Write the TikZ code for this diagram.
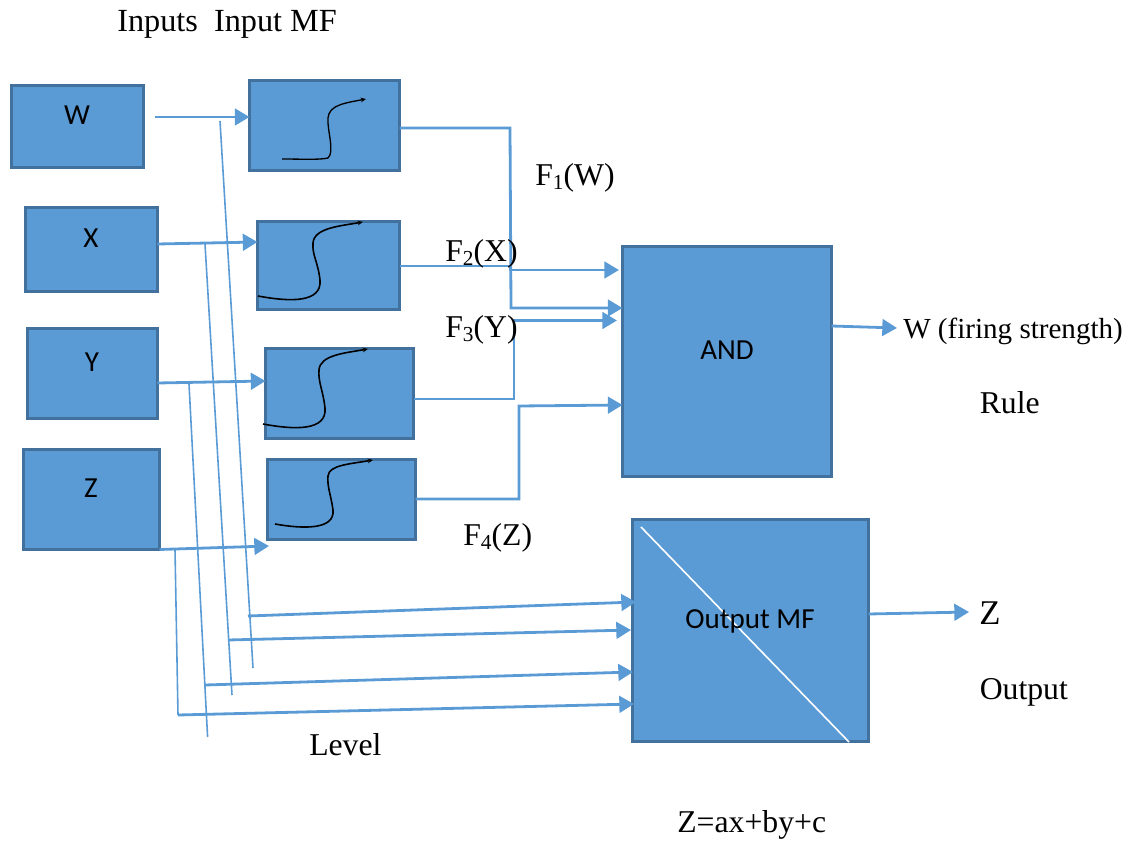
\documentclass[tikz,border=0pt]{standalone}
\usepackage{fontspec}
\setmainfont{Liberation Serif}
\newfontfamily\boxfont{Carlito}
\usetikzlibrary{arrows.meta,calc}
\definecolor{boxfill}{HTML}{5B9BD5}
\definecolor{boxedge}{HTML}{41719C}
\newcommand{\subn}[1]{\raisebox{-2.4pt}{\fontsize{16}{16}\selectfont #1}}
\tikzset{
  fbox/.style={draw=boxedge,fill=boxfill,line width=2.2pt,inner sep=0pt,outer sep=0pt,anchor=north west},
  conn/.style={draw=boxfill,line width=2.1pt,-{Triangle[length=11pt,width=12.5pt]}},
  thin wire/.style={draw=boxfill,line width=1.2pt},
  lab/.style={font=\fontsize{23.8}{24}\selectfont,anchor=base west,inner sep=0pt,text=black},
  boxlab/.style={font=\boxfont\fontsize{21.8}{22}\selectfont,inner sep=0pt,text=black},
  sig/.style={draw=black,line width=1.2pt,-{Stealth[length=4pt,width=3.5pt]}}
}
\begin{document}
\begin{tikzpicture}[x=0.75pt,y=-0.75pt]
\useasboundingbox (0,0) rectangle (1132,841);
% boxes
\node[fbox,minimum width=99pt,minimum height=61.5pt] (w) at (11.5,85.5) {};
\node[fbox,minimum width=99pt,minimum height=63pt] (x) at (25.5,207.5) {};
\node[fbox,minimum width=97.5pt,minimum height=67.5pt] (y) at (27.5,328.5) {};
\node[fbox,minimum width=102pt,minimum height=75pt] (z) at (23.5,449.5) {};
\node[fbox,minimum width=112.5pt,minimum height=67.5pt] (m1) at (249.5,80.5) {};
\node[fbox,minimum width=106.5pt,minimum height=66pt] (m2) at (257.5,221.5) {};
\node[fbox,minimum width=111pt,minimum height=67.5pt] (m3) at (265.5,348.5) {};
\node[fbox,minimum width=111pt,minimum height=60pt] (m4) at (267.5,459.5) {};
\node[fbox,minimum width=156.75pt,minimum height=172.5pt] (and) at (622.5,246.5) {};
\node[fbox,minimum width=177pt,minimum height=166.5pt] (out) at (632.5,519.5) {};
% free ends
\coordinate (wstart) at (155,117);
\coordinate (zarrow) at (269,546);
\coordinate (wres) at (897,328);
\coordinate (zres) at (969,612);
\coordinate (t1a) at (220,121);  \coordinate (t1b) at (253,668);
\coordinate (t2a) at (205,244);  \coordinate (t2b) at (232,695);
\coordinate (t3a) at (189,384);  \coordinate (t3b) at (207.6,737);
\coordinate (t4a) at (175,549);  \coordinate (t4b) at (178,715);
\coordinate (b1) at (248,616);
\coordinate (b2) at (228,640);
\coordinate (b3) at (205,685);
\coordinate (dia) at (641,527);
\coordinate (dib) at (849,742);
% white diagonal
\draw[white,line width=1.2pt] (dia) -- (dib);
% thin verticals
\draw[thin wire] (t1a) -- (t1b);
\draw[thin wire] (t2a) -- (t2b);
\draw[thin wire] (t3a) -- (t3b);
% input arrows
\draw[conn] (wstart) -- (m1.west |- 0,117);
\draw[conn] (x.east |- 0,244) -- (m2.west |- 0,242);
\draw[conn] (y.east |- 0,383) -- (m3.west |- 0,381);
\draw[conn] (z.south east) -- (zarrow);
% MF outputs to AND
\draw[conn] (m1.east |- 0,128) -- (510,128) -- (511,308) -- (and.west |- 0,308);
\draw[conn] (m2.east |- 0,266) -- (510,266) -- (510,270) -- (619,270);
\draw[conn] (m3.east |- 0,399) -- (514,399) -- (514,320.5) -- (617,320.5);
\draw[conn] (m4.east |- 0,499) -- (519,499) -- (519,406) -- (and.west |- 0,405);
% outputs
\draw[conn] (and.east |- 0,326) -- (wres);
\draw[conn] (out.east |- 0,614) -- (zres);
% lower arrows
\draw[thin wire] (t4a) -- (t4b);
\draw[conn] (b1) -- (636,602);
\draw[conn] (b2) -- (631,630);
\draw[conn] (b3) -- (633,672);
\draw[conn] (t4b) -- (634,704);
% membership curves
\draw[sig,line width=1pt] (282,159) .. controls (300,159) and (320,160) .. (328,158) .. controls (335,152) and (327,130) .. (328,118) .. controls (329,105) and (345,103) .. (366,99);
\draw[sig] (258,296) .. controls (290,302) and (322,303) .. (320,280) .. controls (318,262) and (312,255) .. (313,243) .. controls (314,228) and (340,226) .. (363,222);
\draw[sig] (263,424) .. controls (295,430) and (327,431) .. (325,408) .. controls (323,390) and (318,382) .. (319,370) .. controls (320,355) and (345,353) .. (368,349);
\draw[sig] (275,524) .. controls (303,529) and (335,530) .. (333,510) .. controls (331,495) and (327,487) .. (328,476) .. controls (329,465) and (350,464) .. (373,460);
% box labels
\node[boxlab] (lw) at (77,115) {W};
\node[boxlab] (lx) at (91,238) {X};
\node[boxlab] (ly) at (92,362) {Y};
\node[boxlab] (lz) at (91,488) {Z};
\node[boxlab] (land) at (727,350) {AND};
\node[boxlab] (lout) at (750,621.5) {Output MF};
% text
\node[lab,font=\fontsize{24.2}{24}\selectfont] (t0) at (117,31.5) {Inputs\ \ Input MF};
\node[lab] (f1) at (535,186) {F\subn{1}(W)};
\node[lab] (f2) at (445,262) {F\subn{2}(X)};
\node[lab] (f3) at (445,338) {F\subn{3}(Y)};
\node[lab] (f4) at (463,546) {F\subn{4}(Z)};
\node[lab,font=\fontsize{21.8}{22}\selectfont] (fs) at (903,338.5) {W (firing strength)};
\node[lab] (rule) at (979.5,414) {Rule};
\node[lab,font=\fontsize{26}{26}\selectfont] (zo) at (979,624) {Z};
\node[lab] (outp) at (979.5,699) {Output};
\node[lab] (lev) at (309,755) {Level};
\node[lab] (eq) at (677,832) {Z=ax+by+c};
\end{tikzpicture}
\end{document}
